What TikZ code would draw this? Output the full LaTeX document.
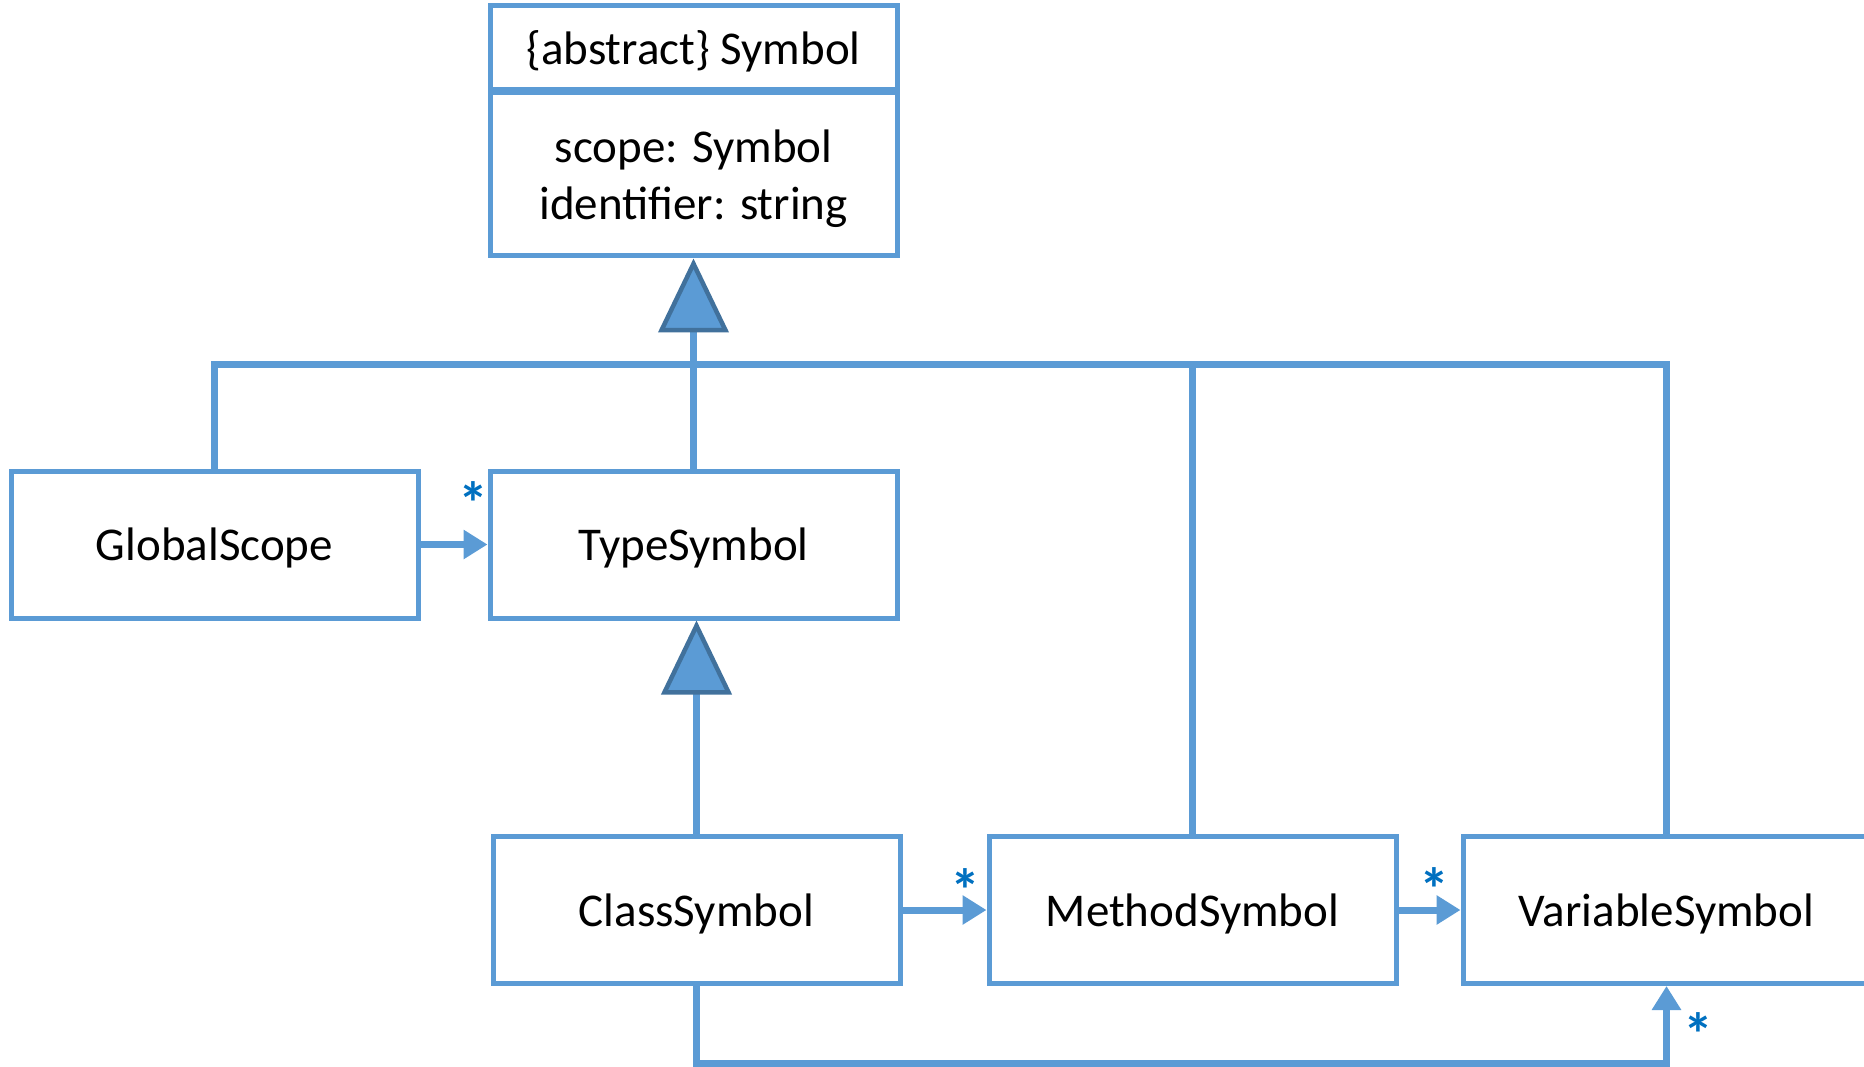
\documentclass[tikz,border=0pt]{standalone}
\usepackage{fontspec}
\setmainfont{Carlito}
\usetikzlibrary{arrows.meta}
\definecolor{lineblue}{HTML}{5B9BD5}
\definecolor{tridark}{HTML}{41719C}
\definecolor{starblue}{HTML}{0070C0}
\begin{document}
\begin{tikzpicture}[x=1pt,y=-1pt,
  box/.style={draw=lineblue, line width=5pt, fill=white, minimum width=407pt,
    minimum height=147pt, inner sep=0pt, text depth=0pt,
    font=\fontsize{47}{57}\selectfont, text=black},
  conn/.style={draw=lineblue, line width=7pt},
  assoc/.style={conn, -{Triangle[length=24pt,width=28pt]}},
  gen/.style={conn, -{Triangle[length=74pt,width=70pt,fill=lineblue,color=tridark,line width=4.5pt]}},
  star/.style={text=starblue, font=\fontsize{60}{70}\selectfont\bfseries, inner sep=0pt, anchor=north}]
\useasboundingbox (0,0) rectangle (1864,1067);

% classes
\node[box, minimum height=84pt] (symh) at (693.5,48) {\{abstract\} Symbol};
\node[box, minimum height=163pt, align=center] (syma) at (693.5,174.5) {scope: Symbol\\identifier: string};
\node[box] (gs) at (214.5,544.5) {GlobalScope};
\node[box] (ts) at (693.5,544.5) {TypeSymbol};
\node[box] (cs) at (696.5,910) {ClassSymbol};
\node[box] (ms) at (1192.5,910) {MethodSymbol};
\node[box] (vs) at (1666.5,910) {VariableSymbol};

% generalization bus
\coordinate (bus) at (693.5,365);
\draw[conn] (gs.north) |- (bus) -| (vs.north);
\draw[conn] (ms.north) |- (bus);
\draw[gen] (ts.north) -- (syma.south);
\draw[gen] (cs.north) -- (cs.north |- ts.south);

% associations
\draw[assoc] (gs.east) -- (ts.west);
\draw[assoc] (cs.east) -- (ms.west);
\draw[assoc] (ms.east) -- (vs.west);
\draw[assoc] (cs.south) -- (cs.south |- 0,1063) -| (vs.south);

% multiplicities
\node[star] (m1) at (473,481) {*};
\node[star] (m2) at (965,868) {*};
\node[star] (m3) at (1434,867) {*};
\node[star] (m4) at (1698,1012) {*};
\end{tikzpicture}
\end{document}
